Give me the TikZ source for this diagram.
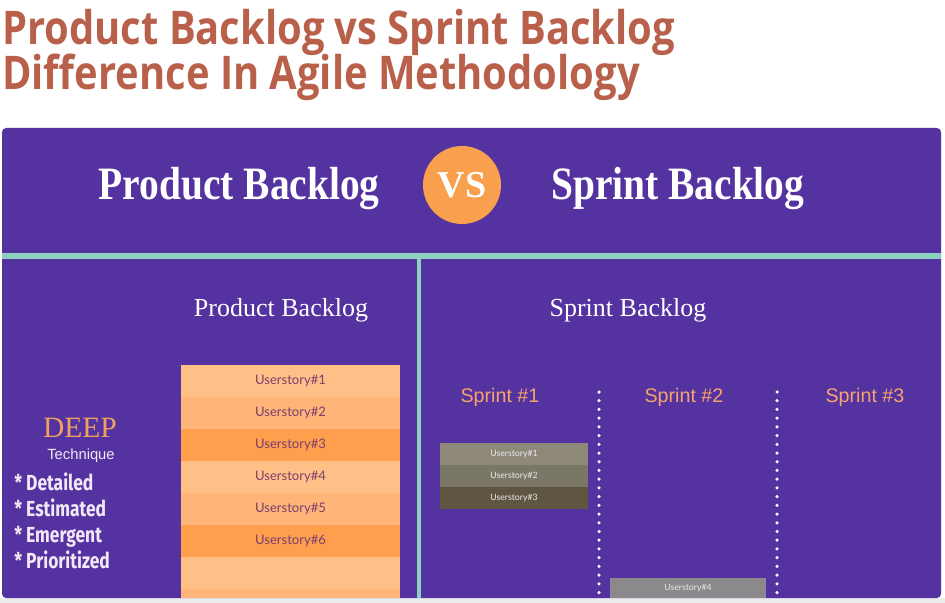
\documentclass[tikz,border=0pt]{standalone}
\usepackage{fontspec}
\usepackage{tikz}
\usepackage{xcolor}
\usetikzlibrary{positioning}
\newfontfamily\titlefont[FakeStretch=0.86]{Open Sans}
\newfontfamily\headfont[FakeStretch=0.85]{Liberation Serif}
\newfontfamily\serifplain{Liberation Serif}
\newfontfamily\storyfont{Lato}
\newfontfamily\listfont[FakeStretch=0.8]{Fira Sans}
\newfontfamily\labelfont{Liberation Sans}
\definecolor{blogred}{HTML}{B9604A}
\definecolor{panelpurple}{HTML}{5432A0}
\definecolor{tealline}{HTML}{8ED0BE}
\definecolor{vsorange}{HTML}{F9A04F}
\definecolor{storylight}{HTML}{FFC088}
\definecolor{storymid}{HTML}{FFB478}
\definecolor{storydark}{HTML}{FF9E4C}
\definecolor{storytext}{HTML}{7B3F6E}
\definecolor{deeporange}{HTML}{F0A063}
\definecolor{listlav}{HTML}{F1E8F7}
\definecolor{sprintorange}{HTML}{F6A36C}
\definecolor{sprintA}{HTML}{8D8878}
\definecolor{sprintB}{HTML}{7B7767}
\definecolor{sprintC}{HTML}{5F5641}
\definecolor{storygray}{HTML}{8B898B}
\tikzset{
  titleText/.style={font=\titlefont\bfseries\fontsize{33}{38}\selectfont, text=blogred, inner sep=0pt, anchor=base west},
  headText/.style={font=\headfont\bfseries\fontsize{33}{38}\selectfont, text=white, inner sep=0pt},
  panelTitle/.style={font=\serifplain\fontsize{18.5}{22}\selectfont, text=white, inner sep=0pt, anchor=base},
  storyRow/.style={minimum width=5.475cm, minimum height=0.8cm, inner sep=0pt, outer sep=0pt, font=\storyfont\fontsize{9.3}{11}\selectfont, text=storytext},
  sprintRow/.style={minimum width=3.7cm, minimum height=0.55cm, inner sep=0pt, outer sep=0pt, font=\storyfont\fontsize{6.2}{7}\selectfont, text=white!92!black},
  sprintLabel/.style={font=\labelfont\fontsize{14}{16}\selectfont, text=sprintorange, inner sep=0pt, anchor=base},
  listItem/.style={font=\listfont\bfseries\fontsize{15.5}{18}\selectfont, text=listlav, inner sep=0pt, anchor=base west},
  sprintDivider/.style={draw=white, line width=2.5pt, dash pattern=on 0pt off 6.2pt, line cap=round}
}
\begin{document}
\begin{tikzpicture}[x=0.025cm, y=-0.025cm]
  \useasboundingbox (0,0) rectangle (945,603);
  \fill[white] (0,0) rectangle (945,603);
  \fill[black!7] (0,598) rectangle (945,603);
  % page title
  \node[titleText] (title1) at (2,45) {Product Backlog vs Sprint Backlog};
  \node[titleText] (title2) at (2,90) {Difference In Agile Methodology};
  % panel
  \fill[panelpurple, rounded corners=3pt] (2,128) rectangle (941,598);
  \fill[tealline] (2,253) rectangle (941,259);
  \fill[tealline] (417,259) rectangle (421,598);
  % header
  \node[circle, fill=vsorange, minimum size=1.95cm, inner sep=0pt, font=\serifplain\bfseries\fontsize{27}{28}\selectfont, text=white] (vs) at (462,185) {VS};
  \node[headText, anchor=base east] (prodHead) at (380,200) {Product Backlog};
  \node[headText, anchor=base west] (sprintHead) at (551,200) {Sprint Backlog};
  % product backlog side
  \node[panelTitle] (prodTitle) at (281,316) {Product Backlog};
  \node[font=\serifplain\fontsize{21}{24}\selectfont, text=deeporange, inner sep=0pt, anchor=base] (deep) at (80,437) {DEEP};
  \node[font=\labelfont\fontsize{10.5}{12}\selectfont, text=listlav, inner sep=0pt, anchor=base] (technique) at (81,459) {Technique};
  \node[listItem] (detailed) at (14,490) {* Detailed};
  \node[listItem] (estimated) at (14,516) {* Estimated};
  \node[listItem] (emergent) at (14,542) {* Emergent};
  \node[listItem] (prioritized) at (14,568) {* Prioritized};
  \node[storyRow, fill=storylight, anchor=north west] (us1) at (181,365) {Userstory\#1};
  \node[storyRow, fill=storymid, below=0pt of us1] (us2) {Userstory\#2};
  \node[storyRow, fill=storydark, below=0pt of us2] (us3) {Userstory\#3};
  \node[storyRow, fill=storylight, below=0pt of us3] (us4) {Userstory\#4};
  \node[storyRow, fill=storymid, below=0pt of us4] (us5) {Userstory\#5};
  \node[storyRow, fill=storydark, below=0pt of us5] (us6) {Userstory\#6};
  \node[storyRow, fill=storylight, below=0pt of us6] (us7) {};
  \node[storyRow, fill=storymid, minimum height=0.225cm, below=0pt of us7] (us8) {};
  % sprint backlog side
  \node[panelTitle] (sprintTitle) at (628,316) {Sprint Backlog};
  \node[sprintLabel] (sprint1) at (500,402) {Sprint \#1};
  \node[sprintLabel] (sprint2) at (684,402) {Sprint \#2};
  \node[sprintLabel] (sprint3) at (865,402) {Sprint \#3};
  \draw[sprintDivider] (599,392) -- (599,598);
  \draw[sprintDivider] (777,392) -- (777,598);
  \node[sprintRow, fill=sprintA, anchor=north west] (sp1) at (440,443) {Userstory\#1};
  \node[sprintRow, fill=sprintB, below=0pt of sp1] (sp2) {Userstory\#2};
  \node[sprintRow, fill=sprintC, below=0pt of sp2] (sp3) {Userstory\#3};
  \node[sprintRow, fill=storygray, minimum width=3.9cm, minimum height=0.5cm, anchor=north west] (sp4) at (610,578) {Userstory\#4};
\end{tikzpicture}
\end{document}
